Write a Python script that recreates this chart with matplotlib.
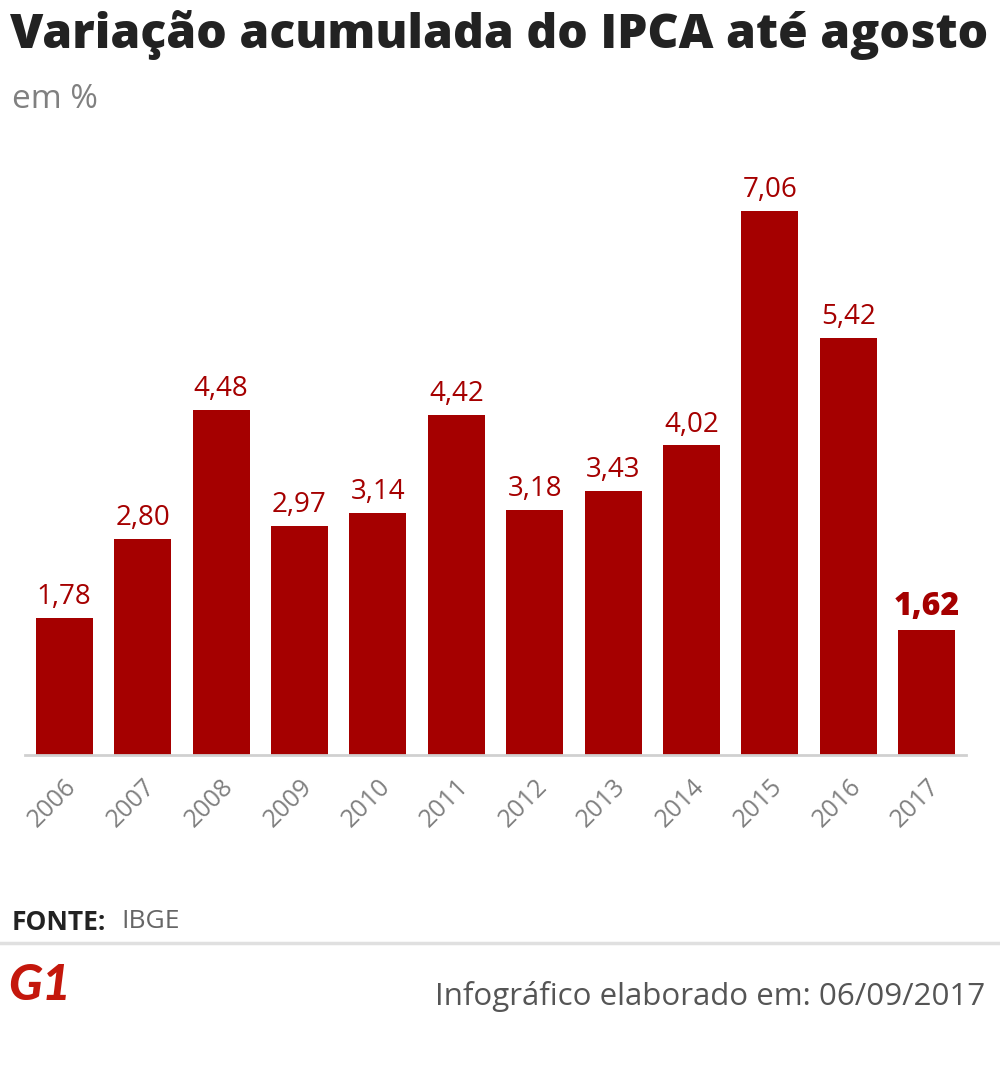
import matplotlib
matplotlib.use("Agg")
import matplotlib.pyplot as plt
import numpy as np

anos = ["2006", "2007", "2008", "2009", "2010", "2011",
        "2012", "2013", "2014", "2015", "2016", "2017"]
ipca = [1.78, 2.80, 4.48, 2.97, 3.14, 4.42, 3.18, 3.43, 4.02, 7.06, 5.42, 1.62]
rotulos = ["1,78", "2,80", "4,48", "2,97", "3,14", "4,42",
           "3,18", "3,43", "4,02", "7,06", "5,42", "1,62"]

VERMELHO = "#a50000"
W, H = 1000, 1075

fig = plt.figure(figsize=(W / 100, H / 100), dpi=100)
fig.patch.set_facecolor("white")

# axes placed in pixel terms: baseline at y=755, 77 px per unit
ax = fig.add_axes([25 / W, (H - 755) / H, 941 / W, 577.5 / H])
x = np.arange(len(anos))
ax.bar(x, ipca, width=0.727, color=VERMELHO, zorder=2)
ax.set_xlim(-0.5, 11.5)
ax.set_ylim(0, 7.5)

for s in ["top", "right", "left"]:
    ax.spines[s].set_visible(False)
ax.spines["bottom"].set_color("#d0d0d0")
ax.spines["bottom"].set_linewidth(2)
ax.set_yticks([])
ax.set_xticks(x)
ax.set_xticklabels(anos, rotation=45, ha="right", rotation_mode="anchor",
                   fontsize=18, color="#808080", family="Open Sans")
ax.tick_params(axis="x", length=0, pad=14)

for i, (v, r) in enumerate(zip(ipca, rotulos)):
    ultimo = i == len(ipca) - 1
    ax.annotate(r, (i, v), xytext=(0, 5), textcoords="offset points",
                ha="center", va="bottom", color=VERMELHO,
                family="Open Sans",
                fontsize=23 if ultimo else 20,
                fontweight="heavy" if ultimo else "normal")

fig.text(10 / W, 1 - 35 / H, "Variação acumulada do IPCA até agosto",
         ha="left", va="center", fontsize=34.6, family="Open Sans",
         fontweight=800, color="#222222")
fig.text(12 / W, 1 - 100 / H, "em %", ha="left", va="center",
         fontsize=24, family="Open Sans", color="#808080")

fig.text(12 / W, 1 - 922 / H, "FONTE:", ha="left", va="center",
         fontsize=19, family="Open Sans", fontweight="bold", color="#222222")
fig.text(121 / W, 1 - 922 / H, "IBGE", ha="left", va="center",
         fontsize=19, family="Open Sans", color="#666666")

fig.add_artist(plt.Line2D([0, 1], [1 - 943 / H, 1 - 943 / H],
                          color="#e0e0e0", linewidth=2.5))

fig.text(8 / W, 1 - 985 / H, "G1", ha="left", va="center",
         fontsize=36, family="Lato", fontweight="black",
         style="italic", color="#c4170c")
fig.text(985 / W, 1 - 997 / H, "Infográfico elaborado em: 06/09/2017",
         ha="right", va="center", fontsize=22.5, family="Open Sans",
         color="#555555")

fig.savefig("out.png", dpi=100, facecolor="white")
